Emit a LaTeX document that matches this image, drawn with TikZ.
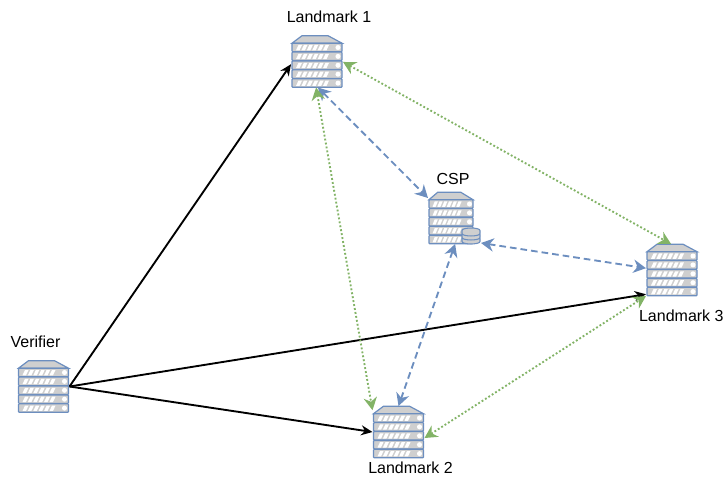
\documentclass[tikz,border=0pt]{standalone}
\usepackage{fontspec}
\setmainfont{Liberation Sans}
\usetikzlibrary{arrows.meta,
	positioning}
\definecolor{srvline}{HTML}{6C8EBF}
\definecolor{srvfill}{HTML}{CFCFCF}
\definecolor{linkgreen}{HTML}{82B366}
\newcommand{\servericon}[2]{%
	\begin{scope}[shift={(#1.center)}, x=#2, y=-0.75pt, line width=0.9pt]
		\begin{scope}[shift={(-25,-25.8)}]
			\draw[srvline, fill=srvfill] (0,7.5) -- (10,0) -- (36,0) -- (50,7.5) -- cycle;
			\foreach \r in {0,...,4} {
				\begin{scope}[shift={(0,8.9*\r)}]
					\draw[srvline, fill=srvfill, rounded corners=0.6pt] (0,7.5) rectangle (50,16);
					\foreach \s in {0,...,5} {
						\fill[white] (4+5.4*\s,14.6) -- (6.5+5.4*\s,9.3) -- (10+5.4*\s,9.3) -- (7.5+5.4*\s,14.6) -- cycle;
					}
					\fill[white] (46,11.8) circle[radius=1.9pt];
				\end{scope}
			}
		\end{scope}
	\end{scope}
}
\newcommand{\dbicon}[1]{%
	\begin{scope}[shift={(#1.center)}, line width=0.8pt]
		\foreach \d in {4,0,-4} {
			\draw[srvline, fill=srvfill] (-9,\d-1.5) -- (-9,\d+1.5) .. controls (-9,\d+4.8) and (9,\d+4.8) .. (9,\d+1.5) -- (9,\d-1.5) .. controls (9,\d-4.8) and (-9,\d-4.8) .. (-9,\d-1.5) -- cycle;
		}
	\end{scope}
}
\tikzstyle{server}=[rectangle, minimum width=39pt, minimum height=39pt, inner sep=0, outer sep=0]
\tikzstyle{smallserver}=[rectangle, minimum width=34.5pt, minimum height=39pt, inner sep=0, outer sep=0]
\tikzstyle{database}=[rectangle, minimum width=15pt, minimum height=14pt, inner sep=0, outer sep=0]
\tikzstyle{lbl}=[inner sep=0, font=\fontsize{12}{14}\selectfont]
\tikzstyle{direct}=[-{Stealth[length=8.5pt, width=7.5pt]}, line width=1.4pt, black]
\tikzstyle{csplink}=[{Stealth[length=9.5pt, width=10pt]}-{Stealth[length=9.5pt, width=10pt]}, line width=1.4pt, srvline, dash pattern=on 5pt off 3pt]
\tikzstyle{peerlink}=[{Stealth[length=9.5pt, width=10pt]}-{Stealth[length=9.5pt, width=10pt]}, line width=1.4pt, linkgreen, dash pattern=on 1.4pt off 1.6pt]
\begin{document}
\begin{tikzpicture}[x=0.75pt, y=-0.75pt]
	\useasboundingbox (0,0) rectangle (724,477);
	\node[server] (verifier) at (43.5,386.5) {};
	\node[server] (lmone) at (317,61.5) {};
	\node[server] (lmtwo) at (398.5,432) {};
	\node[server] (lmthree) at (672,270) {};
	\node[smallserver] (csp) at (451,218) {};
	\node[database] (cspdb) at (471,236) {};
	\foreach \n/\u in {verifier/0.75pt, lmone/0.75pt, lmtwo/0.75pt, lmthree/0.75pt, csp/0.66pt} {
		\servericon{\n}{\u}
	}
	\dbicon{cspdb}
	\node[lbl, above=9.5pt of lmone, xshift=9pt] (lmonetxt) {Landmark 1};
	\node[lbl, above=5pt of csp, xshift=1.5pt] (csptxt) {CSP};
	\node[lbl, above=9.5pt of verifier, xshift=-6pt] (verifiertxt) {Verifier};
	\node[lbl, below=3pt of lmtwo, xshift=9pt] (lmtwotxt) {Landmark 2};
	\node[lbl, below=10.5pt of lmthree, xshift=7pt] (lmthreetxt) {Landmark 3};
	% direct probes
	\draw[direct] (verifier.east) to (lmone.186);
	\draw[direct] (verifier.east) to (lmthree.223);
	\draw[direct] (verifier.east) to (lmtwo.west);
	% cloud provider
	\draw[csplink] (lmone.272) to (csp.139);
	\draw[csplink] (csp.279) to (lmtwo.90);
	\draw[csplink] (cspdb.325) to (lmthree.176);
	% between landmarks
	\draw[peerlink] (lmone.268) to (lmtwo.140);
	\draw[peerlink] (lmone.359) to (lmthree.92);
	\draw[peerlink] (lmtwo.347) to (lmthree.225);
\end{tikzpicture}
\end{document}
